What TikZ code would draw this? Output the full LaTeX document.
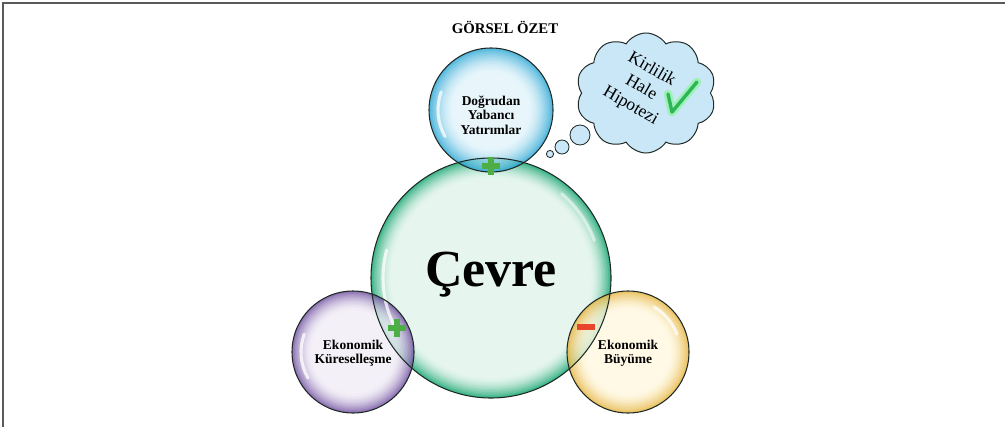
\documentclass[tikz,border=0pt]{standalone}
\usepackage{fontspec}
\setmainfont{Liberation Serif}
\usetikzlibrary{shapes.symbols}
\definecolor{framegray}{HTML}{5A5A5A}
\definecolor{cloudfill}{HTML}{C9E7F6}
\definecolor{plusgreen}{HTML}{4DAE46}
\definecolor{minusred}{HTML}{E8452C}
\definecolor{checkgreen}{HTML}{2FB457}
\definecolor{edgedark}{HTML}{1F2A26}
\definecolor{gedge}{HTML}{3DB488}
\definecolor{ginner}{HTML}{E6F6EF}
\definecolor{bedge}{HTML}{2AA6D4}
\definecolor{binner}{HTML}{E2F4FB}
\definecolor{pedge}{HTML}{6F4E9F}
\definecolor{pinner}{HTML}{F0ECF6}
\definecolor{yedge}{HTML}{E6B43C}
\definecolor{yinner}{HTML}{FFF7DF}
\newcommand\bubblefill[5]{% center, radius, edge colour, inner colour, band fraction
  \foreach \i in {0,...,14}{%
    \pgfmathsetmacro\rr{#2*(1-#5*\i/14)}%
    \pgfmathtruncatemacro\pp{100*(1-\i/14)^1.7}%
    \fill[#3!\pp!#4] (#1) circle[radius=\rr];
  }%
}
\tikzset{
  rim/.style={draw=edgedark, line width=0.75pt},
  lbl/.style={font=\bfseries\fontsize{9.6}{10.2}\selectfont, align=center, text=black},
  gloss/.style={white, line width=2.2pt, opacity=0.75, line cap=round},
  sign/.style={line width=4.3pt},
  thought/.style={circle, draw=edgedark, fill=cloudfill, line width=0.6pt, inner sep=0pt},
}
\begin{document}
\begin{tikzpicture}[x=0.025cm, y=-0.025cm]
\useasboundingbox (0,0) rectangle (1005,427);
% frame
\coordinate (ftr) at (1005,3);
\coordinate (ftl) at (3,3);
\coordinate (fbl) at (3,427);
\draw[framegray, line width=1.4pt] (ftr) -- (ftl) -- (fbl);
% title
\node[font=\bfseries\fontsize{10.5}{12}\selectfont] (title) at (505,27) {GÖRSEL ÖZET};
% centres
\coordinate (cevre) at (491,278);
\coordinate (dyy) at (491,110);
\coordinate (ek) at (353,352);
\coordinate (eb) at (628,352);
% main bubble
\bubblefill{cevre}{120}{gedge}{ginner}{0.17}
% small bubbles (translucent)
\begin{scope}[transparency group, opacity=0.8]
\bubblefill{dyy}{62}{bedge}{binner}{0.4}
\end{scope}
\begin{scope}[transparency group, opacity=0.8]
\bubblefill{ek}{61}{pedge}{pinner}{0.32}
\end{scope}
\begin{scope}[transparency group, opacity=0.8]
\bubblefill{eb}{61}{yedge}{yinner}{0.32}
\end{scope}
% glossy highlights
\draw[gloss] (cevre) ++(150:108) arc[start angle=150, end angle=195, radius=108];
\draw[gloss, opacity=0.5] (cevre) ++(-20:110) arc[start angle=-20, end angle=-50, radius=110];
\draw[gloss] (dyy) ++(150:53) arc[start angle=150, end angle=200, radius=53];
\draw[gloss] (ek) ++(150:52) arc[start angle=150, end angle=200, radius=52];
\draw[gloss] (eb) ++(-20:52) arc[start angle=-20, end angle=-60, radius=52];
% rims
\draw[rim] (cevre) circle[radius=120];
\draw[rim] (dyy) circle[radius=62];
\draw[rim] (ek) circle[radius=61];
\draw[rim] (eb) circle[radius=61];
% signs
\coordinate (p1) at (491,166);
\coordinate (p2) at (397,328);
\coordinate (m1) at (586,327);
\draw[sign, plusgreen] (p1) ++(-9,0) -- ++(18,0) (p1) ++(0,-9) -- ++(0,18);
\draw[sign, plusgreen] (p2) ++(-9,0) -- ++(18,0) (p2) ++(0,-9) -- ++(0,18);
\draw[sign, minusred] (m1) ++(-9,0) -- ++(18,0);
% labels
\node[font=\bfseries\fontsize{37}{40}\selectfont] (cevretext) at (491,275) {Çevre};
\node[lbl] (dyytext) at (491,115) {Doğrudan\\Yabancı\\Yatırımlar};
\node[lbl] (ektext) at (353,353) {Ekonomik\\Küreselleşme};
\node[lbl] (ebtext) at (628,353) {Ekonomik\\Büyüme};
% thought bubbles
\node[thought, minimum size=0.5cm] (t1) at (580,135) {};
\node[thought, minimum size=0.35cm] (t2) at (562,147) {};
\node[thought, minimum size=0.18cm] (t3) at (550,154) {};
% cloud
\node[cloud, cloud puffs=10, cloud puff arc=115, aspect=1.1, draw=edgedark, fill=cloudfill, line width=0.7pt, minimum width=3.5cm, minimum height=3.0cm] (cloud) at (646,93) {};
\node[font=\fontsize{12.5}{15}\selectfont, rotate=-30, align=center] (hyp) at (641,88) {Kirlilik\\Hale\\Hipotezi};
% check mark
\coordinate (c1) at (668,94);
\coordinate (c2) at (672,112);
\coordinate (c3) at (697,82);
\draw[green!60!white, opacity=0.45, line width=6pt, line cap=round, line join=round] (c1) -- (c2) -- (c3);
\draw[checkgreen, line width=2.4pt, line cap=round, line join=round] (c1) -- (c2) -- (c3);
\end{tikzpicture}
\end{document}
